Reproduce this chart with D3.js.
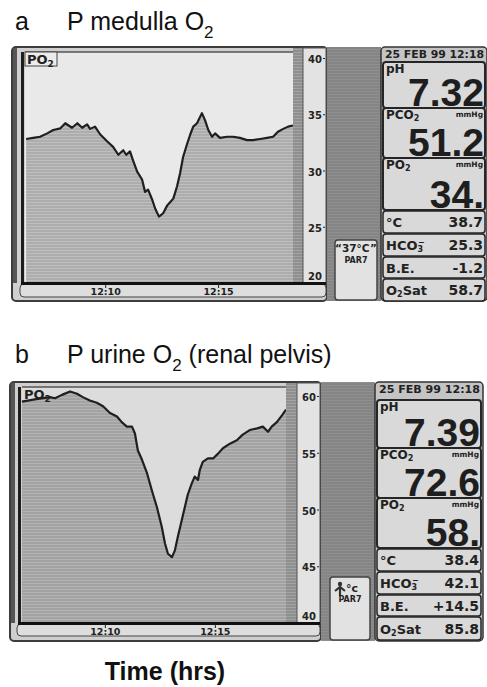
<!DOCTYPE html>
<html>
<head>
<meta charset="utf-8">
<script src="https://cdn.jsdelivr.net/npm/d3@7"></script>
<style>
  body { margin: 0; background: #fff; }
  svg { display: block; font-family: "Liberation Sans", Arial, sans-serif; }
  .lcd { font-family: "DejaVu Sans", sans-serif; font-weight: bold; fill: #222; }
  .axis text { font-family: "DejaVu Sans", sans-serif; font-weight: bold; fill: #222; }
  .axis line { stroke: #222; }
</style>
</head>
<body>
<div id="chart"></div>
<script>
const medullaTimes = ['12:06:30','12:06:49','12:07:07','12:07:26','12:07:42','12:08:01','12:08:14','12:08:32',
  '12:08:46','12:08:59','12:09:12','12:09:20','12:09:33','12:09:47','12:10:05','12:10:21','12:10:35','12:10:48',
  '12:10:56','12:11:06','12:11:14','12:11:25','12:11:38','12:11:46','12:11:54','12:12:05','12:12:13','12:12:23',
  '12:12:34','12:12:45','12:12:53','12:13:01','12:13:11','12:13:19','12:13:27','12:13:38','12:13:46','12:13:54',
  '12:14:04','12:14:17','12:14:25','12:14:34','12:14:44','12:14:52','12:15:05','12:15:24','12:15:40','12:15:58',
  '12:16:17','12:16:33','12:16:52','12:17:10','12:17:26','12:17:39','12:17:53','12:18:06','12:18:19'];
const medullaPO2 = [32.8, 32.9, 33.0, 33.3, 33.6, 33.75, 34.2, 33.8, 34.2, 33.8, 34.1, 33.7, 33.9, 33.2, 32.6,
  32.1, 31.4, 31.8, 31.4, 31.7, 30.9, 29.9, 29.2, 28.1, 28.3, 27.4, 26.6, 25.9, 26.2, 26.9, 27.2, 27.5, 28.6,
  29.75, 31.2, 32.4, 33.2, 33.9, 34.2, 35.1, 34.5, 33.6, 33.0, 33.3, 32.9, 33.0, 33.0, 32.9, 32.7, 32.7, 32.8,
  32.9, 33.0, 33.45, 33.7, 33.9, 34.0];

const urineTimes = ['12:06:14','12:06:49','12:07:30','12:07:44','12:08:03','12:08:25','12:08:44','12:09:00',
  '12:09:19','12:09:38','12:09:55','12:10:14','12:10:33','12:10:46','12:11:00','12:11:14','12:11:22','12:11:30',
  '12:11:41','12:11:55','12:12:08','12:12:22','12:12:35','12:12:44','12:12:52','12:13:03','12:13:11','12:13:19',
  '12:13:30','12:13:38','12:13:46','12:13:57','12:14:05','12:14:14','12:14:19','12:14:27','12:14:41','12:14:55',
  '12:15:08','12:15:22','12:15:41','12:16:00','12:16:16','12:16:35','12:16:55','12:17:11','12:17:25','12:17:35',
  '12:17:49','12:18:03','12:18:14'];
const urinePO2 = [59.5, 59.7, 59.9, 59.8, 60.1, 60.4, 60.2, 59.9, 59.6, 59.4, 59.1, 58.5, 58.2, 57.7, 57.3, 57.3,
  56.7, 55.2, 54.4, 53.2, 51.7, 50.2, 48.5, 47.0, 46.1, 45.8, 46.4, 47.6, 49.1, 50.2, 51.3, 52.3, 52.9, 52.6,
  53.5, 54.2, 54.5, 54.5, 54.9, 55.4, 55.8, 56.1, 56.6, 57.0, 57.15, 57.3, 56.85, 57.3, 57.7, 58.3, 58.8];

const medullaRange = ['12:06:27', '12:18:19'];
const urineRange = ['12:06:14', '12:18:14'];
const medullaTicks = [20, 25, 30, 35, 40];
const urineTicks = [40, 45, 50, 55, 60];
const timeTicks = ['12:10', '12:15'];

const screenDate = '25 FEB 99 12:18';
const bigLabels = ['pH', 'PCO2', 'PO2'];
const smallLabels = ['°C', 'HCO3', 'B.E.', 'O2Sat'];
const medullaBig = ['7.32', '51.2', '34.'];
const medullaSmall = ['38.7', '25.3', '-1.2', '58.7'];
const urineBig = ['7.39', '72.6', '58.'];
const urineSmall = ['38.4', '42.1', '+14.5', '85.8'];

// ---- layout ----
const width = 487, height = 687;
const parseTime = d3.timeParse('%H:%M:%S');
const parseTick = d3.timeParse('%H:%M');

const svg = d3.select('#chart').append('svg')
  .attr('width', width).attr('height', height)
  .attr('viewBox', `0 0 ${width} ${height}`);

const defs = svg.append('defs');
function stripes(id, base, line) {
  const p = defs.append('pattern').attr('id', id)
    .attr('patternUnits', 'userSpaceOnUse').attr('width', 8).attr('height', 3);
  p.append('rect').attr('width', 8).attr('height', 3).attr('fill', base);
  p.append('rect').attr('y', 1).attr('width', 8).attr('height', 1).attr('fill', line);
}
stripes('fillA', '#adadad', '#bfbfbf');
stripes('fillB', '#a3a3a3', '#b4b4b4');
stripes('bar', '#8f8f8f', '#a3a3a3');
stripes('column', '#858585', '#8f8f8f');

// text with a subscript part, e.g. PO2
function sub(sel, main, s, rest, size) {
  sel.append('tspan').text(main);
  sel.append('tspan').attr('font-size', size).attr('dy', size * 0.3).text(s);
  if (rest) sel.append('tspan').attr('dy', -size * 0.3).text(rest);
}

function drawPanel(props) {
  const L = props.layout;
  const data = props.times.map((t, i) => ({ time: parseTime(t), value: props.values[i] }));

  const x = d3.scaleTime().domain(props.range.map(parseTime)).range([L.left, L.right]);
  const y = d3.scaleLinear()
    .domain([props.ticks[0], props.ticks[props.ticks.length - 1]])
    .range([L.bottom, L.yMax]);

  // title
  svg.append('text').attr('x', 15).attr('y', L.titleY)
    .attr('font-size', 25).attr('fill', '#111').text(props.letter);
  const title = svg.append('text').attr('x', 67).attr('y', L.titleY)
    .attr('font-size', 25).attr('fill', '#111');
  title.append('tspan').text(props.title[0]);
  title.append('tspan').attr('font-size', 17).attr('dy', 8).text('2');
  if (props.title[1]) title.append('tspan').attr('dy', -8).text(props.title[1]);

  // outer monitor bezel
  svg.append('rect')
    .attr('x', L.frameX).attr('y', L.top - 5)
    .attr('width', L.scaleRight - L.frameX + 1).attr('height', L.frameBottom - L.top + 5)
    .attr('rx', 4).attr('fill', '#cfcfcf').attr('stroke', '#3c3c3c').attr('stroke-width', 2);
  svg.append('rect')
    .attr('x', L.frameX + 1).attr('y', L.top - 4).attr('width', 4).attr('height', L.bottom - L.top + 4)
    .attr('fill', '#555');
  svg.append('rect')
    .attr('x', L.left - 4).attr('y', L.top).attr('width', 3).attr('height', L.bottom - L.top)
    .attr('fill', '#1e1e1e');

  // plot background
  svg.append('rect')
    .attr('x', L.left).attr('y', L.top)
    .attr('width', L.right - L.left).attr('height', L.bottom - L.top)
    .attr('fill', props.bg);
  svg.append('line')
    .attr('x1', L.left).attr('x2', L.right).attr('y1', L.top).attr('y2', L.top)
    .attr('stroke', '#555').attr('stroke-width', 1.5);

  // filled trace
  const area = d3.area().x(d => x(d.time)).y0(L.bottom).y1(d => y(d.value));
  const line = d3.line().x(d => x(d.time)).y(d => y(d.value));
  svg.append('path').datum(data).attr('d', area).attr('fill', `url(#${props.fill})`);
  svg.append('path').datum(data).attr('d', line)
    .attr('fill', 'none').attr('stroke', '#1f1f1f').attr('stroke-width', 2.2)
    .attr('stroke-linejoin', 'round');

  // PO2 tag
  if (props.tagBox) {
    svg.append('rect')
      .attr('x', L.left).attr('y', L.top).attr('width', 32).attr('height', 14)
      .attr('fill', '#ececec').attr('stroke', '#444').attr('stroke-width', 1);
  }
  const tag = svg.append('text').attr('class', 'lcd')
    .attr('x', L.left + 2).attr('y', L.top + 12).attr('font-size', 13);
  sub(tag, 'PO', '2', null, 9);

  // striped bar and scale bar
  svg.append('rect')
    .attr('x', L.right).attr('y', L.top - 4).attr('width', L.scaleLeft - L.right).attr('height', L.bottom - L.top + 4)
    .attr('fill', 'url(#bar)');
  svg.append('rect')
    .attr('x', L.scaleLeft).attr('y', L.top - 4)
    .attr('width', L.scaleRight - L.scaleLeft).attr('height', L.bottom - L.top + 4)
    .attr('fill', '#e3e3e3').attr('stroke', '#555').attr('stroke-width', 1);

  const lowest = props.ticks[0];
  svg.append('g').attr('class', 'axis')
    .attr('transform', `translate(${L.scaleRight - 1},0)`)
    .call(d3.axisLeft(y).tickValues(props.ticks).tickSize(2).tickPadding(1).tickFormat(d => d))
    .call(g => g.select('.domain').remove())
    .call(g => g.selectAll('text').attr('font-size', 10)
      .attr('dy', d => d === lowest ? '-0.35em' : '0.45em'));

  // time strip
  svg.append('rect')
    .attr('x', L.left - 5).attr('y', L.bottom + 1)
    .attr('width', L.scaleRight - L.left + 5).attr('height', L.stripBottom - L.bottom - 1)
    .attr('rx', 4).attr('fill', '#dedede').attr('stroke', '#444').attr('stroke-width', 1);
  svg.append('line')
    .attr('x1', L.left - 4).attr('x2', L.scaleRight).attr('y1', L.bottom + 0.5).attr('y2', L.bottom + 0.5)
    .attr('stroke', '#111').attr('stroke-width', 3);

  svg.append('g').attr('class', 'axis')
    .attr('transform', `translate(0,${L.bottom + 1})`)
    .call(d3.axisBottom(x).tickValues(timeTicks.map(parseTick))
      .tickFormat(d3.timeFormat('%H:%M')).tickSize(4).tickPadding(0))
    .call(g => g.select('.domain').remove())
    .call(g => g.selectAll('text').attr('font-size', 9.5));

  // dark column and PAR7 box
  svg.append('rect')
    .attr('x', L.scaleRight + 1).attr('y', L.top - 5)
    .attr('width', L.readLeft - L.scaleRight - 1).attr('height', L.frameBottom - L.top + 5)
    .attr('fill', 'url(#column)');
  const pb = L.parBox;
  svg.append('rect')
    .attr('x', pb[0]).attr('y', pb[1]).attr('width', pb[2] - pb[0]).attr('height', pb[3] - pb[1])
    .attr('rx', 3).attr('fill', '#e2e2e2').attr('stroke', '#444').attr('stroke-width', 1.5);
  const pcx = (pb[0] + pb[2]) / 2;
  if (props.parIcon) {
    const ix = pb[0] + 10, iy = pb[1] + 5;
    svg.append('circle').attr('cx', ix).attr('cy', iy + 2).attr('r', 2.2).attr('fill', '#333');
    svg.append('path')
      .attr('d', `M${ix - 5},${iy + 9} L${ix},${iy + 5} L${ix + 5},${iy + 9} M${ix},${iy + 5} L${ix},${iy + 14}`)
      .attr('stroke', '#333').attr('stroke-width', 2.2).attr('fill', 'none');
    svg.append('text').attr('class', 'lcd').attr('x', ix + 6).attr('y', pb[1] + 15)
      .attr('font-size', 11).text('°c');
  } else {
    svg.append('text').attr('class', 'lcd').attr('x', pcx).attr('y', pb[1] + 12)
      .attr('text-anchor', 'middle').attr('font-size', 10.5).text('“37°C”');
  }
  svg.append('text').attr('class', 'lcd').attr('x', pcx).attr('y', pb[1] + (props.parIcon ? 25 : 23))
    .attr('text-anchor', 'middle').attr('font-size', 8).text('PAR7');

  // readout panel
  const rw = L.readRight - L.readLeft;
  svg.append('rect')
    .attr('x', L.readLeft).attr('y', L.top - 5).attr('width', rw).attr('height', L.frameBottom - L.top + 5)
    .attr('rx', 4).attr('fill', '#c4c4c4').attr('stroke', '#333').attr('stroke-width', 1.5);
  svg.append('text').attr('class', 'lcd')
    .attr('x', L.readLeft + 4).attr('y', L.rows[0] + 11).attr('font-size', 10)
    .attr('textLength', rw - 7).attr('lengthAdjust', 'spacingAndGlyphs').text(screenDate);

  const rows = L.rows;
  const bx = L.readLeft + 2, bw = rw - 4;
  bigLabels.forEach((lab, i) => {
    const y0 = rows[i + 1], y1 = rows[i + 2];
    svg.append('rect').attr('x', bx).attr('y', y0).attr('width', bw).attr('height', y1 - y0)
      .attr('rx', 3).attr('fill', '#d9d9d9').attr('stroke', '#262626').attr('stroke-width', 2);
    const lt = svg.append('text').attr('class', 'lcd')
      .attr('x', bx + 3).attr('y', y0 + 11).attr('font-size', 12);
    if (lab === 'pH') lt.text('pH');
    else sub(lt, lab.slice(0, -1), '2', null, 8);
    if (i > 0) {
      svg.append('text').attr('class', 'lcd').attr('x', bx + bw - 2).attr('y', y0 + 9)
        .attr('text-anchor', 'end').attr('font-size', 7.5).text('mmHg');
    }
    svg.append('text')
      .attr('x', bx + bw - 1).attr('y', y1 - 2)
      .attr('text-anchor', 'end').attr('font-size', 39).attr('font-weight', 'bold')
      .attr('fill', '#1e1e1e').text(props.big[i]);
  });

  smallLabels.forEach((lab, i) => {
    const y0 = rows[i + 4] + 1, y1 = rows[i + 5];
    svg.append('rect').attr('x', bx).attr('y', y0).attr('width', bw).attr('height', y1 - y0)
      .attr('rx', 3).attr('fill', '#d9d9d9').attr('stroke', '#262626').attr('stroke-width', 1.5);
    const base = (y0 + y1) / 2 + 5;
    const lt = svg.append('text').attr('class', 'lcd').attr('x', bx + 3).attr('y', base).attr('font-size', 13);
    if (lab === 'HCO3') {
      lt.append('tspan').text('HCO');
      lt.append('tspan').attr('font-size', 8).attr('dy', 2).text('3');
      lt.append('tspan').attr('font-size', 8).attr('dx', -5).attr('dy', -7).text('−');
    } else if (lab === 'O2Sat') {
      sub(lt, 'O', '2', 'Sat', 8);
    } else {
      lt.text(lab);
    }
    svg.append('text').attr('class', 'lcd').attr('x', bx + bw - 2).attr('y', base)
      .attr('text-anchor', 'end').attr('font-size', 14).text(props.small[i]);
  });
}

drawPanel({
  letter: 'a', title: ['P medulla O', ''],
  times: medullaTimes, values: medullaPO2, range: medullaRange, ticks: medullaTicks,
  big: medullaBig, small: medullaSmall, fill: 'fillA', bg: '#e9e9e9', tagBox: true, parIcon: false,
  layout: {
    titleY: 30, frameX: 12, frameBottom: 301,
    left: 25, right: 293, top: 52, bottom: 283, yMax: 58,
    scaleLeft: 303, scaleRight: 326, stripBottom: 297,
    readLeft: 381, readRight: 487, parBox: [335, 240, 377, 300],
    rows: [47, 62, 108, 158, 210, 233, 256, 278, 301]
  }
});

drawPanel({
  letter: 'b', title: ['P urine O', ' (renal pelvis)'],
  times: urineTimes, values: urinePO2, range: urineRange, ticks: urineTicks,
  big: urineBig, small: urineSmall, fill: 'fillB', bg: '#dcdcdc', tagBox: false, parIcon: true,
  layout: {
    titleY: 363, frameX: 10, frameBottom: 641,
    left: 22, right: 286, top: 387, bottom: 623, yMax: 396,
    scaleLeft: 297, scaleRight: 320, stripBottom: 636,
    readLeft: 375, readRight: 483, parBox: [330, 577, 370, 640],
    rows: [382, 400, 448, 498, 548, 571, 594, 616, 640]
  }
});

svg.append('text')
  .attr('x', 165).attr('y', 680).attr('text-anchor', 'middle')
  .attr('font-size', 25).attr('font-weight', 'bold').attr('fill', '#111')
  .text('Time (hrs)');
</script>
</body>
</html>
